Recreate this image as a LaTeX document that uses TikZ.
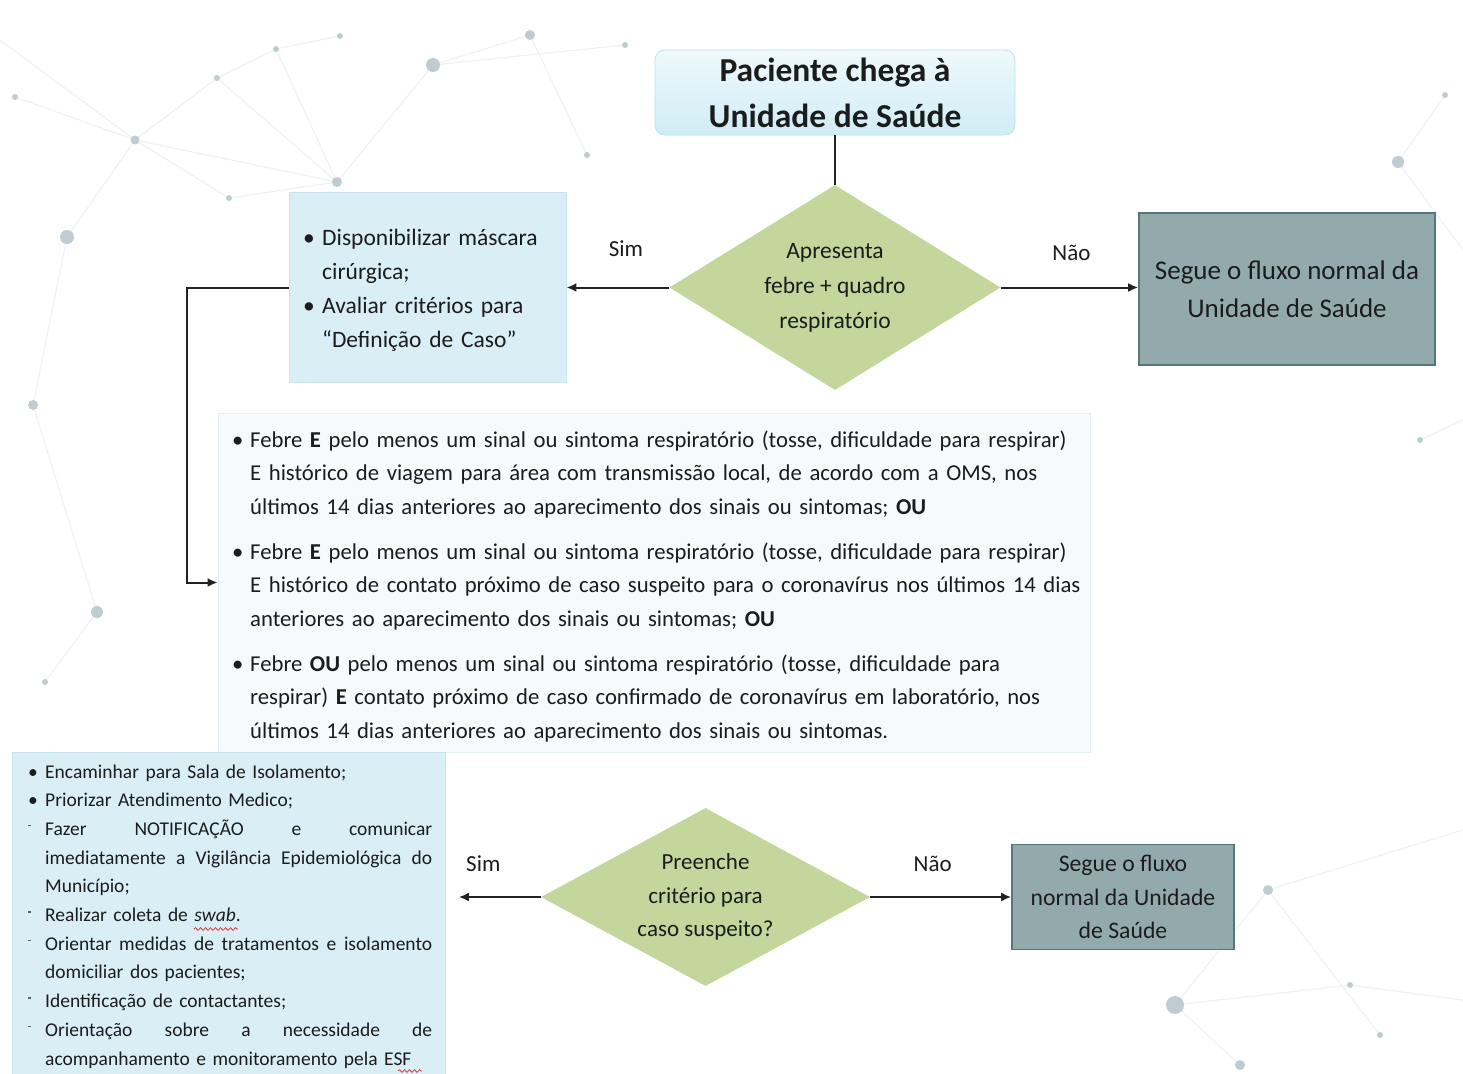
\documentclass[tikz,border=0pt]{standalone}
\usepackage{fontspec}
\setmainfont{Carlito}
\usetikzlibrary{shapes.geometric,arrows.meta,decorations.pathmorphing}

\definecolor{boxblue}{HTML}{DAEEF5}
\definecolor{boxblueedge}{HTML}{C9E4EE}
\definecolor{topblueA}{HTML}{EEF9FC}
\definecolor{topblueB}{HTML}{D0EDF6}
\definecolor{topedge}{HTML}{BFE2EE}
\definecolor{olive}{HTML}{C3D69B}
\definecolor{slate}{HTML}{93AAAD}
\definecolor{slatedk}{HTML}{587579}
\definecolor{netline}{HTML}{EEF2F4}
\definecolor{netdot}{HTML}{BFCDD3}
\definecolor{critfill}{HTML}{F6FAFC}
\definecolor{critedge}{HTML}{E6EFF3}
\definecolor{linedk}{HTML}{222222}
\definecolor{txt}{HTML}{1C1C1C}
\definecolor{squig}{HTML}{D23C3C}

\newcommand{\dashmark}{\makebox[17pt][l]{\textcolor{txt!70}{\rule[9pt]{3pt}{1.3pt}}}}
\newcommand{\fullline}[1]{\hbox to 387pt{#1}}

\begin{document}
\begin{tikzpicture}[x=1pt,y=-1pt,
  conn/.style={draw=linedk, line width=2pt},
  arr/.style={conn, -{Latex[length=10pt,width=9pt]}},
  lbl/.style={font=\fontsize{23}{27}\selectfont, text=txt, inner sep=0pt},
  decision/.style={diamond, fill=olive, draw=none, inner sep=0pt},
  topbox/.style={rectangle, rounded corners=10pt, top color=topblueA, bottom color=topblueB, draw=topedge, line width=0.8pt, inner sep=0pt},
  bluebox/.style={rectangle, fill=boxblue, draw=boxblueedge, line width=0.8pt, inner sep=0pt},
  critbox/.style={rectangle, fill=critfill, draw=critedge, line width=0.8pt, inner sep=0pt},
  greybox/.style={rectangle, fill=slate, draw=slatedk, line width=1.6pt, inner sep=0pt, align=center, text=txt},
  bodytext/.style={anchor=base west, inner sep=0pt, align=left, text=txt},
  netl/.style={draw=netline, line width=1.2pt},
  netd/.style={fill=netdot, draw=none}
]
\useasboundingbox (0,0) rectangle (1463,1073);
\clip (0,0) rectangle (1463,1073);
\fill[white] (0,0) rectangle (1463,1073);

% faint background network
\draw[netl] (0,40) -- (135,140) -- (337,182) -- (433,65) -- (530,35) -- (587,155);
\draw[netl] (15,97) -- (135,140) -- (217,78) -- (276,49) -- (340,36);
\draw[netl] (217,78) -- (337,182) -- (229,198);
\draw[netl] (135,140) -- (229,198);
\draw[netl] (67,237) -- (135,140);
\draw[netl] (67,237) -- (33,405) -- (97,612) -- (45,682);
\draw[netl] (337,182) -- (276,49);
\draw[netl] (433,65) -- (625,45);
\draw[netl] (1398,162) -- (1445,95);
\draw[netl] (1398,162) -- (1463,250);
\draw[netl] (1420,440) -- (1463,420);
\draw[netl] (1175,1005) -- (1268,890) -- (1463,830);
\draw[netl] (1175,1005) -- (1240,1065);
\draw[netl] (1175,1005) -- (1350,985) -- (1463,1000);
\draw[netl] (1268,890) -- (1380,1035);
\foreach \px/\py/\r in {340/36/3,276/49/3,217/78/3,15/97/3,135/140/4.5,433/65/7,530/35/5,625/45/3,587/155/3,337/182/5,229/198/3,67/237/7,33/405/5,97/612/6,45/682/3,1398/162/6,1445/95/3,1420/440/3,1175/1005/9,1268/890/5,1240/1065/5,1380/1035/3,1350/985/3}
  \fill[netd] (\px,\py) circle (\r pt);

% ---- boxes ----
\node[topbox, minimum width=360pt, minimum height=85pt, align=center,
      font=\bfseries\fontsize{33.5}{46}\selectfont, text=txt] (top) at (835,92.5)
      {Paciente chega à\\Unidade de Saúde};

\node[decision, minimum width=331pt, minimum height=205pt] (d1) at (835,287.5) {};
\node[align=center, inner sep=0pt, text=txt, font=\fontsize{23.5}{35}\selectfont] (d1t) at (d1)
      {Apresenta\\febre + quadro\\respiratório};

\node[bluebox, minimum width=277pt, minimum height=190pt] (b1) at (427.5,287.5) {};
\node[bodytext, text width=262pt, font=\fontsize{23.5}{34}\selectfont] (b1t) at (303,245)
      {\makebox[19pt][l]{•}Disponibilizar máscara\\
       \hspace*{19pt}cirúrgica;\\
       \makebox[19pt][l]{•}Avaliar critérios para\\
       \hspace*{19pt}“Definição de Caso”};

\node[greybox, minimum width=296pt, minimum height=152pt, font=\fontsize{27}{38}\selectfont] (r1) at (1287,289)
      {Segue o fluxo normal da\\Unidade de Saúde};

\node[critbox, minimum width=872pt, minimum height=339pt] (crit) at (654,582.5) {};
\node[bodytext, text width=920pt, font=\fontsize{22.7}{33.5}\selectfont] (critt) at (232,447)
      {\makebox[18pt][l]{•}Febre \textbf{E} pelo menos um sinal ou sintoma respiratório (tosse, dificuldade para respirar)\\
       \hspace*{18pt}E histórico de viagem para área com transmissão local, de acordo com a OMS, nos\\
       \hspace*{18pt}últimos 14 dias anteriores ao aparecimento dos sinais ou sintomas; \textbf{OU}\\[11.5pt]
       \makebox[18pt][l]{•}Febre \textbf{E} pelo menos um sinal ou sintoma respiratório (tosse, dificuldade para respirar)\\
       \hspace*{18pt}E histórico de contato próximo de caso suspeito para o coronavírus nos últimos 14 dias\\
       \hspace*{18pt}anteriores ao aparecimento dos sinais ou sintomas; \textbf{OU}\\[11.5pt]
       \makebox[18pt][l]{•}Febre \textbf{OU} pelo menos um sinal ou sintoma respiratório (tosse, dificuldade para\\
       \hspace*{18pt}respirar) \textbf{E} contato próximo de caso confirmado de coronavírus em laboratório, nos\\
       \hspace*{18pt}últimos 14 dias anteriores ao aparecimento dos sinais ou sintomas.};

\node[bluebox, anchor=north west, minimum width=433pt, minimum height=340pt] (bl) at (12,752) {};
\node[bodytext, text width=430pt, font=\fontsize{19.5}{28.7}\selectfont] (blt) at (28,778)
      {\makebox[17pt][l]{•}Encaminhar para Sala de Isolamento;\\
       \makebox[17pt][l]{•}Priorizar Atendimento Medico;\\
       \dashmark\fullline{Fazer\hfill NOTIFICAÇÃO\hfill e\hfill comunicar}\\
       \hspace*{17pt}\fullline{imediatamente\hfill a\hfill Vigilância\hfill Epidemiológica\hfill do}\\
       \hspace*{17pt}Município;\\
       \dashmark Realizar coleta de \textit{swab}.\\
       \dashmark\fullline{Orientar\hfill medidas\hfill de\hfill tratamentos\hfill e\hfill isolamento}\\
       \hspace*{17pt}domiciliar dos pacientes;\\
       \dashmark Identificação de contactantes;\\
       \dashmark\fullline{Orientação\hfill sobre\hfill a\hfill necessidade\hfill de}\\
       \hspace*{17pt}acompanhamento e monitoramento pela ESF};
% spell-check squiggles as printed
\draw[squig, line width=0.8pt, decorate, decoration={snake, amplitude=1.3pt, segment length=5pt}] (194,929) -- (238,929);
\draw[squig, line width=0.8pt, decorate, decoration={snake, amplitude=1.3pt, segment length=5pt}] (398,1071) -- (422,1071);

\node[decision, minimum width=329pt, minimum height=178pt] (d2) at (705.5,897) {};
\node[align=center, inner sep=0pt, text=txt, font=\fontsize{23}{33.5}\selectfont] (d2t) at (d2)
      {Preenche\\critério para\\caso suspeito?};

\node[greybox, minimum width=222pt, minimum height=105pt, font=\fontsize{23.7}{33.5}\selectfont] (r2) at (1123,897)
      {Segue o fluxo\\normal da Unidade\\de Saúde};

% ---- connectors ----
\draw[conn] (top.south) -- (d1.north);
\draw[arr] (d1.west) -- node[lbl, above=30pt, xshift=8pt] (sim1) {Sim} (b1.east);
\draw[arr] (d1.east) -- node[lbl, above=26pt, xshift=2pt] (nao1) {Não} (b1.east -| r1.west);
\draw[arr] (b1.west) -- ++(-102,0) |- (crit.west);
\draw[arr, shorten >=13pt] (d2.west) -- node[lbl, above=24pt, xshift=-10pt] (sim2) {Sim} (d2.west -| bl.east);
\draw[arr] (d2.east) -- node[lbl, above=24pt, xshift=-8pt] (nao2) {Não} (r2.west);
\end{tikzpicture}
\end{document}
